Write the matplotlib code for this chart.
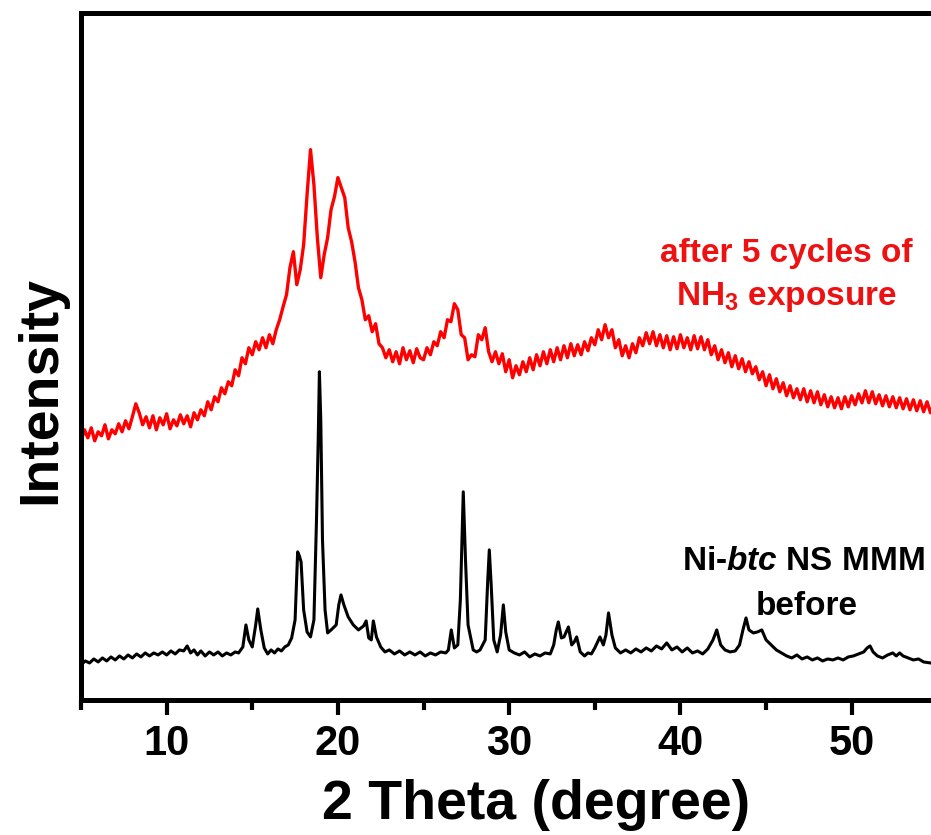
import numpy as np
import matplotlib
matplotlib.use("Agg")
import matplotlib.pyplot as plt
from matplotlib.ticker import MultipleLocator

# ==========================================
# fonts
# ==========================================
plt.rcParams['font.family'] = ['Liberation Sans', 'DejaVu Sans']
plt.rcParams['font.weight'] = 'bold'
plt.rcParams['mathtext.fontset'] = 'custom'
plt.rcParams['mathtext.rm'] = 'Liberation Sans:bold'
plt.rcParams['mathtext.it'] = 'Liberation Sans:italic:bold'
plt.rcParams['mathtext.default'] = 'rm'

# ==========================================
# data (intensity in arbitrary units)
# ==========================================
# after 5 cycles of NH3 exposure: scan 5.0 -> 54.8 deg, step 0.2
scan_start, scan_step = 5.0, 0.2
after_nh3 = [
    258, 270, 262, 272, 259, 268, 264, 275, 261, 270,
    266, 276, 268, 279, 271, 283, 296, 287, 275, 283,
    272, 284, 270, 282, 275, 286, 271, 280, 274, 285,
    276, 284, 273, 287, 280, 290, 284, 298, 290, 303,
    298, 312, 306, 318, 314, 330, 324, 342, 336, 352,
    345, 358, 350, 362, 352, 365, 356, 370, 380, 393,
    405, 432, 448, 415, 430, 455, 505, 550, 515, 462,
    422, 445, 462, 490, 503, 522, 512, 502, 472, 458,
    438, 412, 400, 380, 384, 368, 376, 356, 352, 342,
    350, 338, 348, 336, 352, 340, 349, 337, 351, 342,
    340, 352, 345, 358, 354, 368, 362, 380, 378, 396,
    390, 365, 362, 340, 345, 343, 365, 360, 372, 348,
    338, 348, 336, 346, 328, 340, 322, 334, 325, 338,
    328, 342, 330, 345, 334, 348, 336, 350, 338, 352,
    340, 354, 342, 356, 344, 355, 345, 358, 349, 362,
    355, 370, 360, 375, 362, 370, 352, 360, 344, 354,
    342, 356, 347, 362, 354, 367, 356, 368, 354, 365,
    352, 364, 350, 363, 351, 365, 352, 362, 350, 364,
    351, 363, 350, 360, 345, 354, 340, 350, 337, 347,
    333, 344, 331, 341, 328, 338, 326, 333, 320, 328,
    314, 325, 311, 321, 308, 317, 304, 314, 302, 311,
    300, 311, 298, 309, 297, 308, 295, 305, 293, 303,
    292, 302, 291, 303, 293, 304, 295, 306, 297, 309,
    297, 308, 296, 305, 294, 304, 293, 303, 292, 302,
    291, 301, 290, 300, 289, 299, 288, 298, 287, 296,
]

# Ni-btc NS MMM before
before_theta = [
    5.0, 5.25, 5.5, 5.75, 6.0, 6.25, 6.5, 6.75, 7.0, 7.25, 7.5, 7.75,
    8.0, 8.25, 8.5, 8.75, 9.0, 9.25, 9.5, 9.75, 10.0, 10.25, 10.5, 10.75,
    11.0, 11.2, 11.4, 11.6, 11.8, 12.0, 12.25, 12.5, 12.75, 13.0, 13.25,
    13.5, 13.75, 14.0, 14.2, 14.45, 14.63, 14.8, 15.0, 15.2, 15.32, 15.5,
    15.7, 15.9, 16.1, 16.3, 16.5, 16.7, 16.9, 17.1, 17.3, 17.5, 17.65,
    17.75, 17.85, 18.0, 18.2, 18.4, 18.6, 18.75, 18.85, 18.92, 19.0, 19.1,
    19.25, 19.4, 19.6, 19.9, 20.05, 20.18, 20.35, 20.6, 20.9, 21.2, 21.5,
    21.65, 21.8, 21.95, 22.07, 22.25, 22.5, 22.75, 23.0, 23.3, 23.6, 23.9,
    24.2, 24.5, 24.8, 25.1, 25.4, 25.7, 26.0, 26.3, 26.45, 26.62, 26.8,
    27.0, 27.15, 27.32, 27.45, 27.6, 27.9, 28.1, 28.3, 28.6, 28.75, 28.84,
    28.95, 29.1, 29.3, 29.5, 29.66, 29.8, 30.0, 30.3, 30.6, 30.9, 31.2,
    31.5, 31.8, 32.1, 32.4, 32.6, 32.75, 32.87, 33.05, 33.2, 33.46, 33.65,
    33.8, 33.94, 34.15, 34.4, 34.6, 34.8, 35.0, 35.3, 35.5, 35.65, 35.8,
    36.0, 36.2, 36.5, 36.8, 37.1, 37.4, 37.7, 38.0, 38.3, 38.6, 38.9, 39.2,
    39.5, 39.8, 40.1, 40.4, 40.7, 41.0, 41.3, 41.6, 41.9, 42.12, 42.35,
    42.6, 42.9, 43.2, 43.45, 43.65, 43.83, 44.0, 44.26, 44.5, 44.75, 45.0,
    45.3, 45.6, 45.9, 46.2, 46.5, 46.8, 47.1, 47.4, 47.7, 48.0, 48.3, 48.6,
    48.9, 49.2, 49.5, 49.8, 50.1, 50.4, 50.7, 50.9, 51.07, 51.25, 51.5,
    51.8, 52.1, 52.4, 52.6, 52.8, 53.0, 53.3, 53.6, 53.9, 54.2, 54.6, 55.0,
]
before_int = [
    35, 39, 37, 41, 38, 42, 39, 43, 40, 44, 41, 45,
    42, 46, 43, 47, 44, 47, 45, 48, 45, 49, 46, 50,
    49, 54, 47, 50, 45, 49, 44, 48, 45, 48, 44,
    47, 45, 48, 47, 53, 75, 60, 53, 75, 91, 70,
    52, 46, 50, 47, 51, 49, 53, 55, 62, 80, 148,
    144, 138, 90, 68, 63, 80, 180, 260, 328, 280, 160,
    90, 67, 70, 75, 95, 105, 95, 83, 75, 70, 74,
    79, 62, 60, 79, 63, 53, 48, 50, 46, 49, 45,
    48, 45, 48, 44, 47, 45, 48, 47, 50, 70, 52,
    55, 100, 208, 140, 75, 50, 48, 50, 60, 120, 150,
    115, 60, 48, 65, 95, 68, 50, 47, 45, 48, 43,
    46, 44, 47, 46, 55, 70, 78, 62, 63, 73, 55,
    58, 63, 48, 44, 47, 46, 52, 63, 55, 65, 87,
    65, 52, 47, 50, 47, 51, 48, 52, 49, 54, 51, 57,
    50, 53, 48, 52, 47, 49, 46, 51, 60, 70, 55,
    50, 48, 49, 55, 70, 82, 70, 67, 68, 70, 60,
    55, 50, 47, 44, 42, 45, 41, 43, 40, 42, 39, 41,
    40, 42, 40, 43, 44, 46, 48, 52, 54, 48, 44,
    42, 45, 47, 44, 47, 44, 42, 40, 41, 38, 37, 36,
]

x_ticks = [10, 20, 30, 40, 50]

# ==========================================
# plot
# ==========================================
after_theta = scan_start + scan_step * np.arange(len(after_nh3))

fig = plt.figure(figsize=(9.31, 8.35), dpi=100)
# the right part of the frame runs past the picture edge
ax = fig.add_axes([0.087, 0.1617, 0.975, 0.8233])

ax.plot(before_theta, before_int, color='black', lw=2.2)
ax.plot(after_theta, after_nh3, color='#ff0000', lw=2.4)

ax.set_xlim(5, 58)
ax.set_ylim(0, 687)
ax.set_xticks(x_ticks)
ax.xaxis.set_minor_locator(MultipleLocator(5))
ax.set_yticks([])

for sp in ax.spines.values():
    sp.set_linewidth(3.6)
ax.tick_params(axis='x', which='major', direction='out', length=10.5,
               width=3, pad=7, labelsize=30)
ax.tick_params(axis='x', which='minor', direction='out', length=7, width=3)
for lab in ax.get_xticklabels():
    lab.set_fontweight('bold')

# axis titles placed by hand
fig.text(536 / 931, 1 - 805 / 835, '2 Theta (degree)', fontsize=40,
         fontweight='bold', ha='center', va='center')
fig.text(41 / 931, 1 - 390 / 835, 'Intensity', fontsize=40,
         fontweight='bold', ha='center', va='center', rotation=90)

# curve labels
ax.text(46.2, 438, 'after 5 cycles of', color='#ee1111', fontsize=24,
        fontweight='bold', ha='center', va='baseline')
ax.text(46.2, 395, r'NH$_3$ exposure', color='#ee1111', fontsize=24,
        fontweight='bold', ha='center', va='baseline')
ax.text(47.2, 130, r'Ni-$\mathit{btc}$ NS MMM', color='black', fontsize=24,
        fontweight='bold', ha='center', va='baseline')
ax.text(47.4, 85, 'before', color='black', fontsize=24,
        fontweight='bold', ha='center', va='baseline')

fig.savefig('out.png', dpi=100)
